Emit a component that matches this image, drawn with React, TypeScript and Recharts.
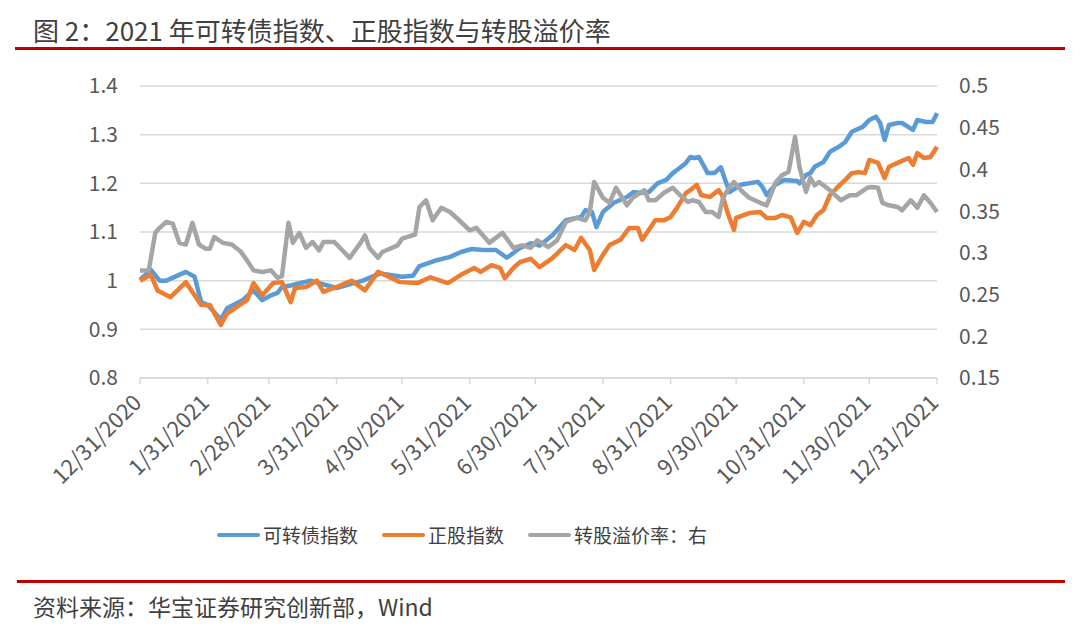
import { LineChart, Line, XAxis, YAxis, CartesianGrid } from 'recharts';

// x positions are days counted from 12/31/2020
const cbDays = [0, 5, 9, 12, 21, 25, 28, 31, 37, 40, 47, 52, 56, 60, 63, 65, 69, 78, 90, 102, 110, 120, 125, 128, 136, 142, 147, 152, 157, 163, 168, 174, 179, 183, 189, 195, 202, 204, 207, 209, 212, 217, 223, 226, 229, 233, 237, 241, 244, 247, 250, 252, 254, 256, 260, 263, 266, 268, 270, 275, 283, 285, 287, 291, 295, 301, 302, 305, 307, 309, 313, 316, 320, 323, 326, 331, 334, 337, 339, 341, 343, 347, 349, 354, 356, 360, 363, 365];
const cbValues = [1.002, 1.022, 1.0, 1.0, 1.018, 1.008, 0.956, 0.95, 0.92, 0.944, 0.96, 0.98, 0.96, 0.97, 0.975, 0.987, 0.99, 1.0, 0.985, 1.0, 1.015, 1.008, 1.01, 1.03, 1.042, 1.049, 1.059, 1.065, 1.063, 1.063, 1.047, 1.067, 1.077, 1.072, 1.094, 1.124, 1.131, 1.145, 1.141, 1.11, 1.141, 1.16, 1.172, 1.182, 1.18, 1.182, 1.2, 1.207, 1.221, 1.231, 1.242, 1.254, 1.252, 1.254, 1.221, 1.221, 1.233, 1.207, 1.182, 1.197, 1.203, 1.193, 1.176, 1.197, 1.207, 1.205, 1.2, 1.217, 1.221, 1.234, 1.244, 1.265, 1.275, 1.285, 1.306, 1.316, 1.33, 1.337, 1.324, 1.289, 1.32, 1.324, 1.324, 1.31, 1.33, 1.326, 1.326, 1.344];

const stockDays = [0, 5, 8, 14, 21, 28, 32, 37, 40, 49, 52, 56, 61, 65, 69, 71, 76, 81, 84, 90, 97, 103, 109, 112, 119, 127, 133, 141, 147, 153, 156, 161, 165, 167, 171, 174, 179, 183, 189, 195, 199, 202, 206, 208, 212, 215, 220, 224, 228, 230, 236, 240, 243, 246, 250, 252, 255, 257, 261, 265, 267, 269, 272, 273, 279, 284, 287, 291, 294, 298, 301, 304, 307, 310, 313, 316, 319, 323, 326, 329, 332, 334, 338, 341, 343, 348, 352, 354, 356, 359, 362, 365];
const stockValues = [1.0, 1.012, 0.98, 0.966, 0.997, 0.95, 0.95, 0.909, 0.933, 0.96, 0.995, 0.97, 0.995, 0.997, 0.956, 0.985, 0.987, 1.0, 0.977, 0.987, 1.0, 0.98, 1.018, 1.012, 0.997, 0.995, 1.007, 0.995, 1.012, 1.026, 1.018, 1.032, 1.026, 1.005, 1.026, 1.038, 1.045, 1.028, 1.047, 1.073, 1.063, 1.088, 1.063, 1.022, 1.053, 1.073, 1.084, 1.108, 1.108, 1.084, 1.124, 1.124, 1.131, 1.15, 1.18, 1.186, 1.197, 1.176, 1.172, 1.186, 1.172, 1.141, 1.104, 1.129, 1.139, 1.141, 1.129, 1.129, 1.135, 1.13, 1.098, 1.121, 1.114, 1.135, 1.145, 1.176, 1.19, 1.207, 1.221, 1.223, 1.221, 1.248, 1.242, 1.211, 1.234, 1.244, 1.252, 1.238, 1.262, 1.252, 1.254, 1.275];

const premiumDays = [0, 4, 7, 9, 12, 15, 18, 21, 24, 27, 30, 32, 34, 38, 42, 46, 49, 52, 56, 60, 63, 65, 68, 70, 73, 76, 79, 82, 84, 89, 96, 101, 103, 105, 109, 111, 118, 120, 126, 128, 131, 134, 138, 142, 147, 151, 154, 160, 166, 171, 175, 179, 182, 187, 191, 195, 200, 204, 206, 208, 212, 215, 218, 223, 226, 231, 233, 236, 240, 244, 247, 251, 253, 256, 259, 262, 265, 267, 270, 272, 276, 279, 284, 287, 291, 294, 297, 300, 302, 305, 307, 309, 311, 316, 321, 325, 328, 333, 335, 338, 340, 343, 347, 349, 353, 356, 359, 362, 365];
const premiumValues = [0.279, 0.279, 0.324, 0.33, 0.337, 0.335, 0.312, 0.31, 0.336, 0.31, 0.305, 0.305, 0.319, 0.312, 0.31, 0.302, 0.291, 0.279, 0.277, 0.279, 0.27, 0.272, 0.336, 0.312, 0.324, 0.306, 0.313, 0.303, 0.313, 0.313, 0.294, 0.312, 0.321, 0.306, 0.294, 0.301, 0.309, 0.317, 0.322, 0.355, 0.363, 0.339, 0.354, 0.349, 0.337, 0.327, 0.33, 0.312, 0.324, 0.306, 0.309, 0.306, 0.315, 0.307, 0.315, 0.337, 0.342, 0.339, 0.349, 0.385, 0.366, 0.36, 0.378, 0.357, 0.367, 0.375, 0.363, 0.363, 0.372, 0.378, 0.37, 0.361, 0.363, 0.361, 0.349, 0.349, 0.343, 0.366, 0.379, 0.385, 0.373, 0.366, 0.36, 0.357, 0.384, 0.393, 0.397, 0.439, 0.403, 0.373, 0.39, 0.381, 0.385, 0.375, 0.363, 0.369, 0.369, 0.378, 0.379, 0.378, 0.36, 0.357, 0.355, 0.351, 0.363, 0.354, 0.369, 0.36, 0.349];

const monthEndDays = [0, 31, 59, 90, 120, 151, 181, 212, 243, 273, 304, 334, 365];
const monthEndLabels = ['12/31/2020', '1/31/2021', '2/28/2021', '3/31/2021', '4/30/2021', '5/31/2021', '6/30/2021', '7/31/2021', '8/31/2021', '9/30/2021', '10/31/2021', '11/30/2021', '12/31/2021'];

const leftTicks = [0.8, 0.9, 1.0, 1.1, 1.2, 1.3, 1.4];
const rightTicks = [0.15, 0.2, 0.25, 0.3, 0.35, 0.4, 0.45, 0.5];

const seriesNames = ['可转债指数', '正股指数', '转股溢价率：右'];
const seriesColors = ['#5B9BD5', '#ED7D31', '#A5A5A5'];

const FONT = '"Noto Sans CJK SC", "Noto Sans", sans-serif';

function buildRows() {
  const rows = new Map<number, any>();
  const put = (days: number[], vals: number[], key: string) => {
    days.forEach((d, i) => {
      if (!rows.has(d)) rows.set(d, { day: d });
      rows.get(d)[key] = vals[i];
    });
  };
  put(cbDays, cbValues, 'cb');
  put(stockDays, stockValues, 'stock');
  put(premiumDays, premiumValues, 'premium');
  return Array.from(rows.values()).sort((a, b) => a.day - b.day);
}

const rows = buildRows();

const DateTick = (props: any) => {
  const { x, y, payload } = props;
  const idx = monthEndDays.indexOf(payload.value);
  const ax = x + 3;
  const ay = y + 20;
  return (
    <text
      x={ax}
      y={ay}
      textAnchor="end"
      fill="#595959"
      fontSize={22}
      fontFamily={FONT}
      transform={`rotate(-45 ${ax} ${ay})`}
    >
      {monthEndLabels[idx]}
    </text>
  );
};

const fmt = (v: number) => String(Math.round(v * 100) / 100);

export default function App() {
  const keys = ['cb', 'stock', 'premium'];
  return (
    <div style={{ position: 'absolute', left: 0, top: 0, width: 1080, height: 627, background: '#fff', fontFamily: FONT, overflow: 'hidden' }}>
      <div style={{ position: 'absolute', left: 33, top: 11, fontSize: 26, color: '#404040', whiteSpace: 'nowrap' }}>
        图 2：2021 年可转债指数、正股指数与转股溢价率
      </div>
      <div style={{ position: 'absolute', left: 15, top: 47, width: 1050, height: 3, background: '#C00000' }} />

      <div style={{ position: 'absolute', left: 0, top: 0 }}>
        <LineChart width={1080} height={500} data={rows} margin={{ top: 86, right: 83, left: 80, bottom: 22 }}>
          <CartesianGrid yAxisId="left" vertical={false} stroke="#d9d9d9" strokeWidth={1.5} />
          <XAxis
            dataKey="day"
            type="number"
            domain={[0, 365]}
            ticks={monthEndDays}
            interval={0}
            height={100}
            stroke="#d9d9d9"
            strokeWidth={1.5}
            tickSize={6}
            tickMargin={0}
            tick={<DateTick />}
          />
          <YAxis
            yAxisId="left"
            orientation="left"
            width={60}
            domain={[0.8, 1.4]}
            ticks={leftTicks}
            tickFormatter={fmt}
            axisLine={false}
            tickLine={false}
            tickSize={0}
            tickMargin={22}
            tick={{ fill: '#595959', fontSize: 21, fontFamily: FONT }}
          />
          <YAxis
            yAxisId="right"
            orientation="right"
            width={60}
            domain={[0.15, 0.5]}
            ticks={rightTicks}
            tickFormatter={fmt}
            axisLine={false}
            tickLine={false}
            tickSize={0}
            tickMargin={22}
            tick={{ fill: '#595959', fontSize: 21, fontFamily: FONT, textAnchor: 'start' }}
          />
          {keys.map((k, i) => (
            <Line
              key={k}
              yAxisId={k === 'premium' ? 'right' : 'left'}
              dataKey={k}
              name={seriesNames[i]}
              stroke={seriesColors[i]}
              strokeWidth={4.5}
              dot={false}
              type="linear"
              connectNulls
              strokeLinejoin="round"
              isAnimationActive={false}
            />
          ))}
        </LineChart>
      </div>

      <div style={{ position: 'absolute', left: 217, top: 521, display: 'flex', alignItems: 'center', gap: 24, fontSize: 19, color: '#404040', whiteSpace: 'nowrap' }}>
        {seriesNames.map((n, i) => (
          <div key={n} style={{ display: 'flex', alignItems: 'center' }}>
            <div style={{ width: 43, height: 4, borderRadius: 2, background: seriesColors[i], marginRight: 3 }} />
            <span>{n}</span>
          </div>
        ))}
      </div>

      <div style={{ position: 'absolute', left: 17, top: 580, width: 1048, height: 3, background: '#C00000' }} />
      <div style={{ position: 'absolute', left: 33, top: 589, fontSize: 23, color: '#404040', whiteSpace: 'nowrap' }}>
        资料来源：华宝证券研究创新部，Wind
      </div>
    </div>
  );
}
